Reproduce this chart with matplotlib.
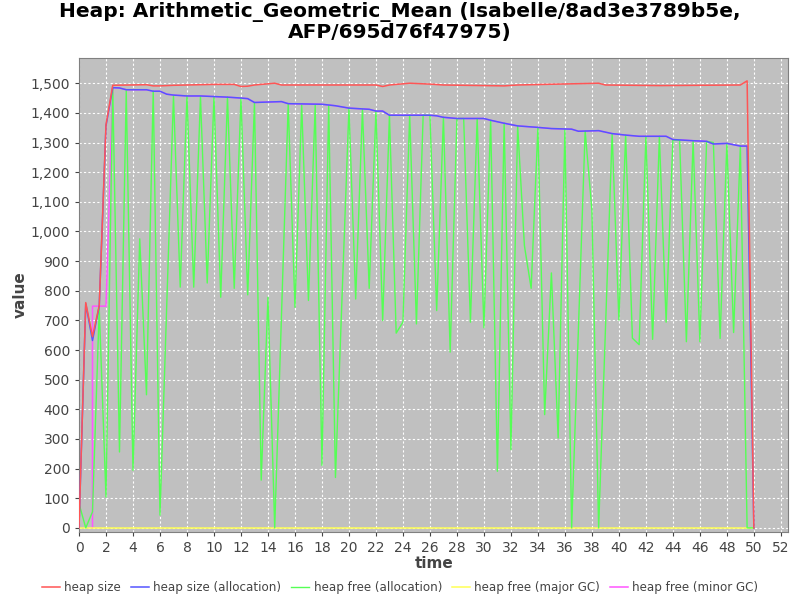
import matplotlib
matplotlib.use("Agg")
import matplotlib.pyplot as plt
from matplotlib.ticker import FuncFormatter, MultipleLocator

title = "Heap: Arithmetic_Geometric_Mean (Isabelle/8ad3e3789b5e,\nAFP/695d76f47975)"

# heap size
size_t = [0, 0.5, 1.0, 1.5, 2.0, 2.5, 5.0, 5.5, 6.0, 7.0, 10.0, 11.5, 12.0, 12.5, 13.0,
          14.5, 15.0, 22.0, 22.5, 23.0, 24.5, 26.0, 27.0, 31.5, 32.5, 38.5, 39.0, 43.0,
          49.0, 49.5, 50.0]
size_v = [0, 760, 645, 750, 1360, 1493, 1495, 1491, 1491, 1493, 1496, 1496, 1489, 1490, 1494,
          1500, 1494, 1494, 1489, 1494, 1500, 1497, 1494, 1491, 1494, 1500, 1494, 1492,
          1494, 1508, 0]

# heap size (allocation)
alloc_t = [0, 0.5, 1.0, 1.5, 2.0, 2.5, 3.0, 3.5, 5.0, 5.5, 6.0, 6.5, 7.0, 8.0, 9.0, 10.0,
           11.0, 12.0, 12.5, 13.0, 15.0, 15.5, 18.0, 19.0, 20.0, 21.5, 22.0, 22.5, 23.0,
           26.0, 26.5, 27.0, 28.0, 30.0, 30.5, 31.5, 32.5, 34.0, 35.0, 36.5, 37.0, 38.5,
           39.5, 40.5, 41.5, 43.5, 44.0, 45.5, 46.5, 47.0, 48.0, 49.0, 49.5, 50.0]
alloc_v = [0, 756, 632, 748, 1356, 1485, 1484, 1478, 1478, 1473, 1473, 1463, 1460, 1457, 1457, 1455,
           1453, 1450, 1448, 1435, 1438, 1431, 1429, 1424, 1416, 1412, 1406, 1406, 1392,
           1392, 1390, 1385, 1381, 1381, 1375, 1365, 1356, 1351, 1347, 1345, 1338, 1340,
           1330, 1325, 1321, 1321, 1310, 1306, 1304, 1295, 1297, 1288, 1288, 0]

# heap free (allocation)
free_t = [0, 0.5, 1.0, 1.5, 2.0, 2.5, 3.0, 3.5, 4.0, 4.5, 5.0, 5.5, 6.0, 7.0, 7.5, 8.0, 8.5,
          9.0, 9.5, 10.0, 10.5, 11.0, 11.5, 12.0, 12.5, 13.0, 13.5, 14.0, 14.5, 15.5, 16.0,
          16.5, 17.0, 17.5, 18.0, 18.5, 19.0, 20.0, 20.5, 21.0, 21.5, 22.0, 22.5, 23.0, 23.5,
          24.0, 24.5, 25.0, 25.5, 26.0, 26.5, 27.0, 27.5, 28.0, 28.5, 29.0, 29.5, 30.0, 30.5,
          31.0, 31.5, 32.0, 32.5, 33.0, 33.5, 34.0, 34.5, 35.0, 35.5, 36.0, 36.5, 37.5, 38.0,
          38.5, 39.5, 40.0, 40.5, 41.0, 41.5, 42.0, 42.5, 43.0, 43.5, 44.0, 44.5, 45.0, 45.5,
          46.0, 46.5, 47.0, 47.5, 48.0, 48.5, 49.0, 49.5, 50.0]
free_v = [82, 0, 54, 740, 104, 1485, 256, 1474, 194, 975, 449, 1474, 43, 1457, 812, 1457, 812,
          1455, 826, 1455, 778, 1453, 808, 1450, 786, 1435, 161, 778, 0, 1429, 744,
          1426, 767, 1426, 211, 1424, 170, 1416, 772, 1412, 808, 1406, 699, 1392, 657,
          694, 1392, 688, 1392, 1392, 733, 1385, 593, 1381, 1381, 694, 1381, 675, 1375,
          191, 1365, 264, 1356, 952, 808, 1351, 382, 860, 303, 1345, 0, 1339, 1072,
          0, 1330, 701, 1325, 640, 618, 1321, 636, 1321, 694, 1308, 1308, 628, 1306,
          628, 1304, 1300, 639, 1297, 659, 1288, 0, 0]

# heap free (major GC)
major_t = [0, 50.0]
major_v = [0, 0]

# heap free (minor GC)
minor_t = [1.0, 1.0, 2.0] + alloc_t[5:-1]
minor_v = [0, 748, 748] + alloc_v[5:-1]

fig = plt.figure(figsize=(8, 6), dpi=100)
ax = fig.add_axes([0.09875, 0.1138, 0.8866, 0.7895])
ax.set_facecolor("#c0c0c0")

ax.plot(size_t, size_v, color="#ff5555", lw=1.1, zorder=6, label="heap size")
ax.plot(alloc_t, alloc_v, color="#5555ff", lw=1.1, zorder=5, label="heap size (allocation)")
ax.plot(free_t, free_v, color="#55ff55", lw=1.0, zorder=4, label="heap free (allocation)")
ax.plot(major_t, major_v, color="#ffff55", lw=1.1, zorder=3, label="heap free (major GC)")
ax.plot(minor_t, minor_v, color="#ff55ff", lw=1.1, zorder=2, label="heap free (minor GC)")

ax.set_xlim(0, 52.55)
ax.set_ylim(-13, 1585)
ax.xaxis.set_major_locator(MultipleLocator(2))
ax.yaxis.set_major_locator(MultipleLocator(100))
ax.yaxis.set_major_formatter(FuncFormatter(lambda v, p: "{:,}".format(int(v))))
ax.grid(True, color="white", linestyle=(0, (2, 2)), lw=0.8)
ax.set_axisbelow(True)
ax.tick_params(labelsize=10, colors="#444444", length=3, width=0.8)
for s in ax.spines.values():
    s.set_color("#808080")

ax.set_xlabel("time", fontsize=11, fontweight="bold", color="#444444", labelpad=1)
ax.set_ylabel("value", fontsize=11, fontweight="bold", color="#444444", labelpad=2)

fig.suptitle(title, fontsize=14.5, fontweight="bold", y=0.997, linespacing=1.1)

fig.legend(loc="lower center", ncol=5, bbox_to_anchor=(0.5, -0.008), frameon=False,
           fontsize=8.6, handlelength=1.5, handletextpad=0.4, columnspacing=0.8,
           labelcolor="#444444")

fig.savefig("out.png", dpi=100)
